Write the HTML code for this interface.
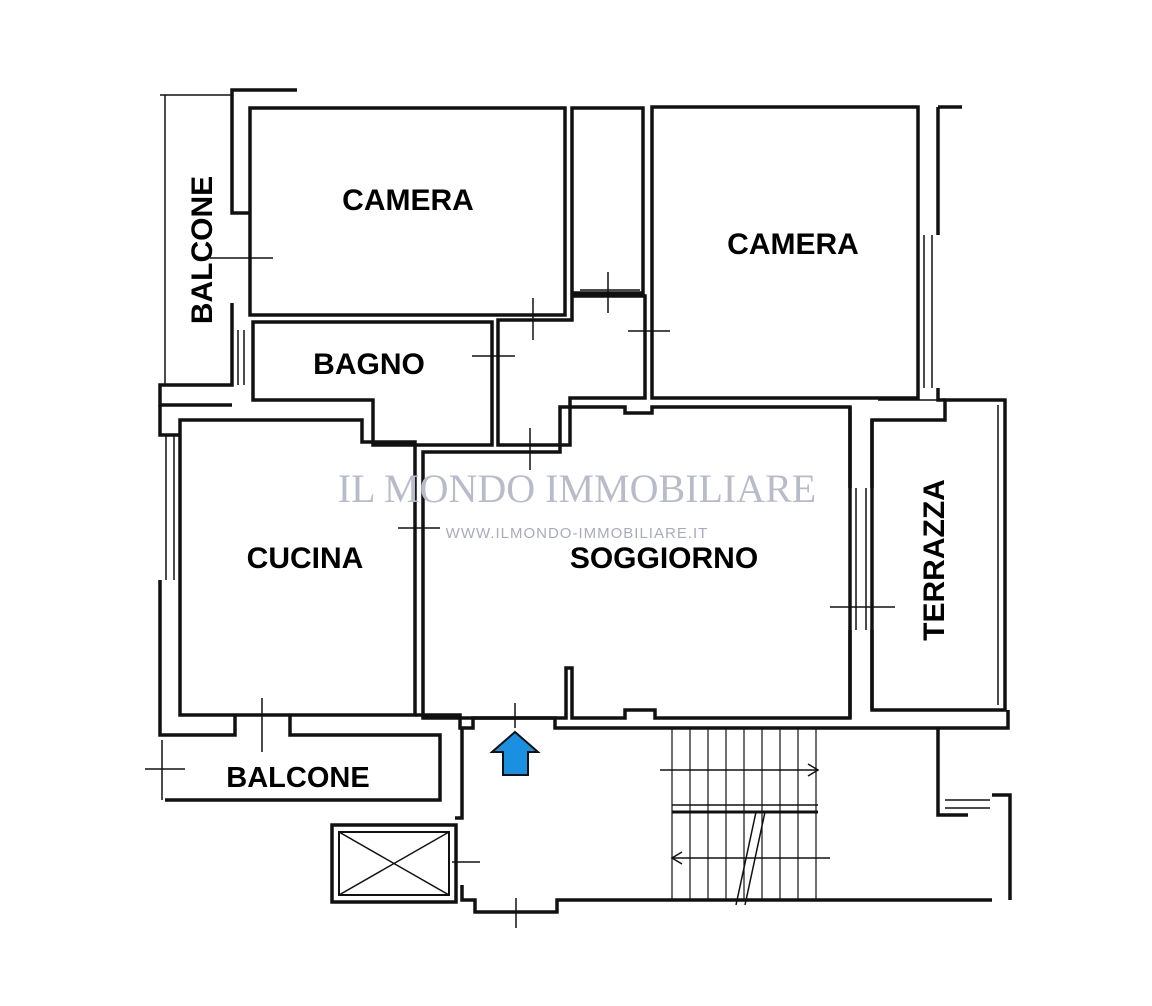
<!DOCTYPE html>
<html><head><meta charset="utf-8"><style>
html,body{margin:0;padding:0;background:#fff;}
svg{display:block}
text{font-family:"Liberation Sans",sans-serif;font-weight:bold;fill:#000}
</style></head><body>
<svg width="1152" height="1006" viewBox="0 0 1152 1006" xmlns="http://www.w3.org/2000/svg">
<g fill="none" stroke="#111" stroke-width="3.5" stroke-linejoin="miter">
<rect x="250" y="108" width="315" height="207"/>
<rect x="572" y="108" width="71" height="185"/>
<rect x="652" y="107" width="266" height="291"/>
<polygon points="253,322 492,322 492,445 373,445 373,400 253,400"/>
<polygon points="498,320 572,320 572,296 645,296 645,398 570,398 570,445 498,445"/>
<polygon points="423,452 560,452 560,407 625,407 625,413 652,413 652,407 850,407 850,718 655,718 655,710 625,710 625,718 572,718 572,668 566,668 566,718 423,718"/>
<polygon points="180,420 362,420 362,442 415,442 415,715 180,715"/>
<polygon points="872,420 945,420 945,400 1005,400 1005,710 872,710"/>
<polyline points="297,90 232,90 232,213 250,213"/>
<polyline points="232,303 232,385 160,385 160,405 232,405"/>
<polyline points="160,405 160,435 180,435"/>
<polyline points="160,580 160,735 235,735 235,715"/>
<polyline points="290,715 290,735 440,735 440,800 165,800"/>
<polyline points="415,715 460,715 460,728 473,728 473,718 555,718 555,728 1008,728 1008,710"/>
<polyline points="938,107 962,107"/>
<polyline points="938,107 938,235"/>
<polyline points="938,388 938,400 945,400"/>
<polyline points="850,488 850,407"/>
<polyline points="872,488 872,420"/>
<polyline points="850,630 850,718"/>
<polyline points="872,630 872,710"/>
<polyline points="938,728 938,815 968,815"/>
<polyline points="992,795 1010,795 1010,900"/>
<polyline points="462,728 462,818 455,818"/>
<polyline points="462,885 462,900 475,900 475,912 557,912 557,900 992,900"/>
<rect x="332" y="825" width="124" height="77"/>
<rect x="339" y="832" width="110" height="63" stroke-width="2"/>
</g>
<g stroke="#111" stroke-width="1.5" fill="none">
<line x1="165" y1="95" x2="165" y2="385"/>
<line x1="160" y1="95" x2="232" y2="95"/>
<line x1="339" y1="832" x2="449" y2="895"/>
<line x1="449" y1="832" x2="339" y2="895"/>
<line x1="210" y1="258" x2="273" y2="258"/><line x1="533" y1="298" x2="533" y2="340"/>
<line x1="472" y1="356" x2="515" y2="356"/><line x1="608" y1="272" x2="608" y2="313"/>
<line x1="628" y1="331" x2="670" y2="331"/><line x1="530" y1="428" x2="530" y2="470"/>
<line x1="830" y1="607" x2="895" y2="607"/><line x1="262" y1="698" x2="262" y2="752"/>
<line x1="145" y1="769" x2="185" y2="769"/><line x1="515" y1="703" x2="515" y2="728"/>
<line x1="452" y1="862" x2="480" y2="862"/><line x1="516" y1="898" x2="516" y2="928"/>
<line x1="398" y1="528" x2="440" y2="528"/>
<line x1="238" y1="330" x2="238" y2="385"/><line x1="244" y1="330" x2="244" y2="385"/>
<line x1="166" y1="435" x2="166" y2="580"/><line x1="174" y1="435" x2="174" y2="580"/>
<line x1="924" y1="235" x2="924" y2="388"/><line x1="932" y1="235" x2="932" y2="388"/>
<line x1="856" y1="488" x2="856" y2="630"/><line x1="866" y1="488" x2="866" y2="630"/>
<line x1="878" y1="400" x2="1000" y2="400"/>
<line x1="998" y1="405" x2="998" y2="705"/>
<line x1="162" y1="740" x2="162" y2="800"/>
<line x1="945" y1="800" x2="990" y2="800"/><line x1="945" y1="808" x2="990" y2="808"/>
<line x1="580" y1="290" x2="640" y2="290"/>
<line x1="672" y1="812" x2="818" y2="812" stroke-width="3"/>
<line x1="672" y1="805" x2="818" y2="805"/>
<line x1="660" y1="770" x2="818" y2="770"/>
<polyline points="808,764 818,770 808,776"/>
<line x1="672" y1="858" x2="830" y2="858"/>
<polyline points="682,852 672,858 682,864"/>
<line x1="745" y1="905" x2="765" y2="812"/><line x1="736" y1="905" x2="756" y2="812"/>
</g>
<g stroke="#111" stroke-width="1.2">
<line x1="672" y1="728" x2="672" y2="900"/><line x1="690" y1="728" x2="690" y2="900"/>
<line x1="708" y1="728" x2="708" y2="900"/><line x1="726" y1="728" x2="726" y2="900"/>
<line x1="744" y1="728" x2="744" y2="900"/><line x1="762" y1="728" x2="762" y2="900"/>
<line x1="780" y1="728" x2="780" y2="900"/><line x1="798" y1="728" x2="798" y2="900"/>
<line x1="816" y1="728" x2="816" y2="900"/>
</g>
<polygon points="515,732 538,752 528,752 528,775 503,775 503,752 492,752" fill="#1b8fe0" stroke="#111" stroke-width="2"/>
<text x="408" y="210" font-size="30" text-anchor="middle">CAMERA</text>
<text x="793" y="254" font-size="30" text-anchor="middle">CAMERA</text>
<text x="369" y="374" font-size="30" text-anchor="middle">BAGNO</text>
<text x="305" y="568" font-size="30" text-anchor="middle">CUCINA</text>
<text x="664" y="568" font-size="30" text-anchor="middle">SOGGIORNO</text>
<text x="298" y="787" font-size="29" text-anchor="middle">BALCONE</text>
<text transform="translate(212,250) rotate(-90)" font-size="30" text-anchor="middle">BALCONE</text>
<text transform="translate(944,560) rotate(-90)" font-size="30" text-anchor="middle">TERRAZZA</text>
<text x="577" y="502" font-size="40" text-anchor="middle" style="font-family:'Liberation Serif',serif;font-weight:normal;fill:#b8bcc8">IL MONDO IMMOBILIARE</text>
<text x="577" y="538" font-size="15" text-anchor="middle" style="font-weight:normal;fill:#a8acb8;letter-spacing:1px">WWW.ILMONDO-IMMOBILIARE.IT</text>
</svg>
</body></html>
